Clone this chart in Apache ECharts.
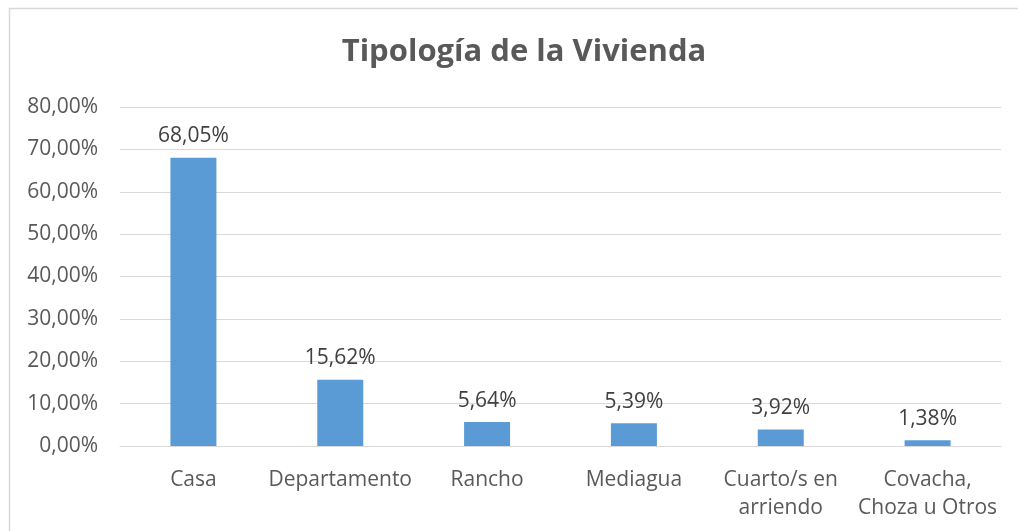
<!DOCTYPE html>
<html><head><meta charset="utf-8">
<script src="https://cdn.jsdelivr.net/npm/echarts@6/dist/echarts.min.js"></script>
<style>html,body{margin:0;padding:0;background:#fff}#c{width:1018px;height:531px}</style>
</head><body><div id="c"></div>
<script>
const categories = ['Casa', 'Departamento', 'Rancho', 'Mediagua', 'Cuarto/s en\narriendo', 'Covacha,\nChoza u Otros'];
const values = [68.05, 15.62, 5.64, 5.39, 3.92, 1.38];
const yTicks = [0, 10, 20, 30, 40, 50, 60, 70, 80];
const titleText = 'Tipología de la Vivienda';

const fmt = v => v.toFixed(2).replace('.', ',') + '%';
const chart = echarts.init(document.getElementById('c'), null, {renderer: 'canvas'});
const font = '"Open Sans", "DejaVu Sans", sans-serif';
chart.setOption({
  animation: false,
  graphic: [{
    type: 'rect', shape: {x: 9.5, y: 8.5, width: 1030, height: 560},
    style: {fill: 'none', stroke: '#d9d9d9', lineWidth: 1.5}, silent: true
  }],
  title: {
    text: titleText, left: 519, textAlign: 'center', top: 32,
    textStyle: {fontFamily: font, fontWeight: 'bold', fontSize: 31, color: '#595959'}
  },
  grid: {left: 120, right: 17, top: 107, bottom: 85, containLabel: false},
  xAxis: {
    type: 'category', data: categories,
    axisLine: {lineStyle: {color: '#d9d9d9', width: 1}},
    axisTick: {show: false},
    axisLabel: {fontFamily: font, fontSize: 21, color: '#595959', margin: 20, lineHeight: 28, interval: 0}
  },
  yAxis: {
    type: 'value', min: yTicks[0], max: yTicks[yTicks.length - 1], interval: 10,
    axisLine: {show: false}, axisTick: {show: false},
    splitLine: {lineStyle: {color: '#d9d9d9', width: 1}},
    axisLabel: {fontFamily: font, fontSize: 21, color: '#595959', margin: 22, formatter: v => fmt(v)}
  },
  series: [{
    type: 'bar', data: values, barWidth: 46,
    itemStyle: {color: '#5b9bd5'},
    label: {show: true, position: 'top', distance: 11, fontFamily: font, fontSize: 21, color: '#404040', formatter: p => fmt(p.value)}
  }]
});
</script></body></html>
